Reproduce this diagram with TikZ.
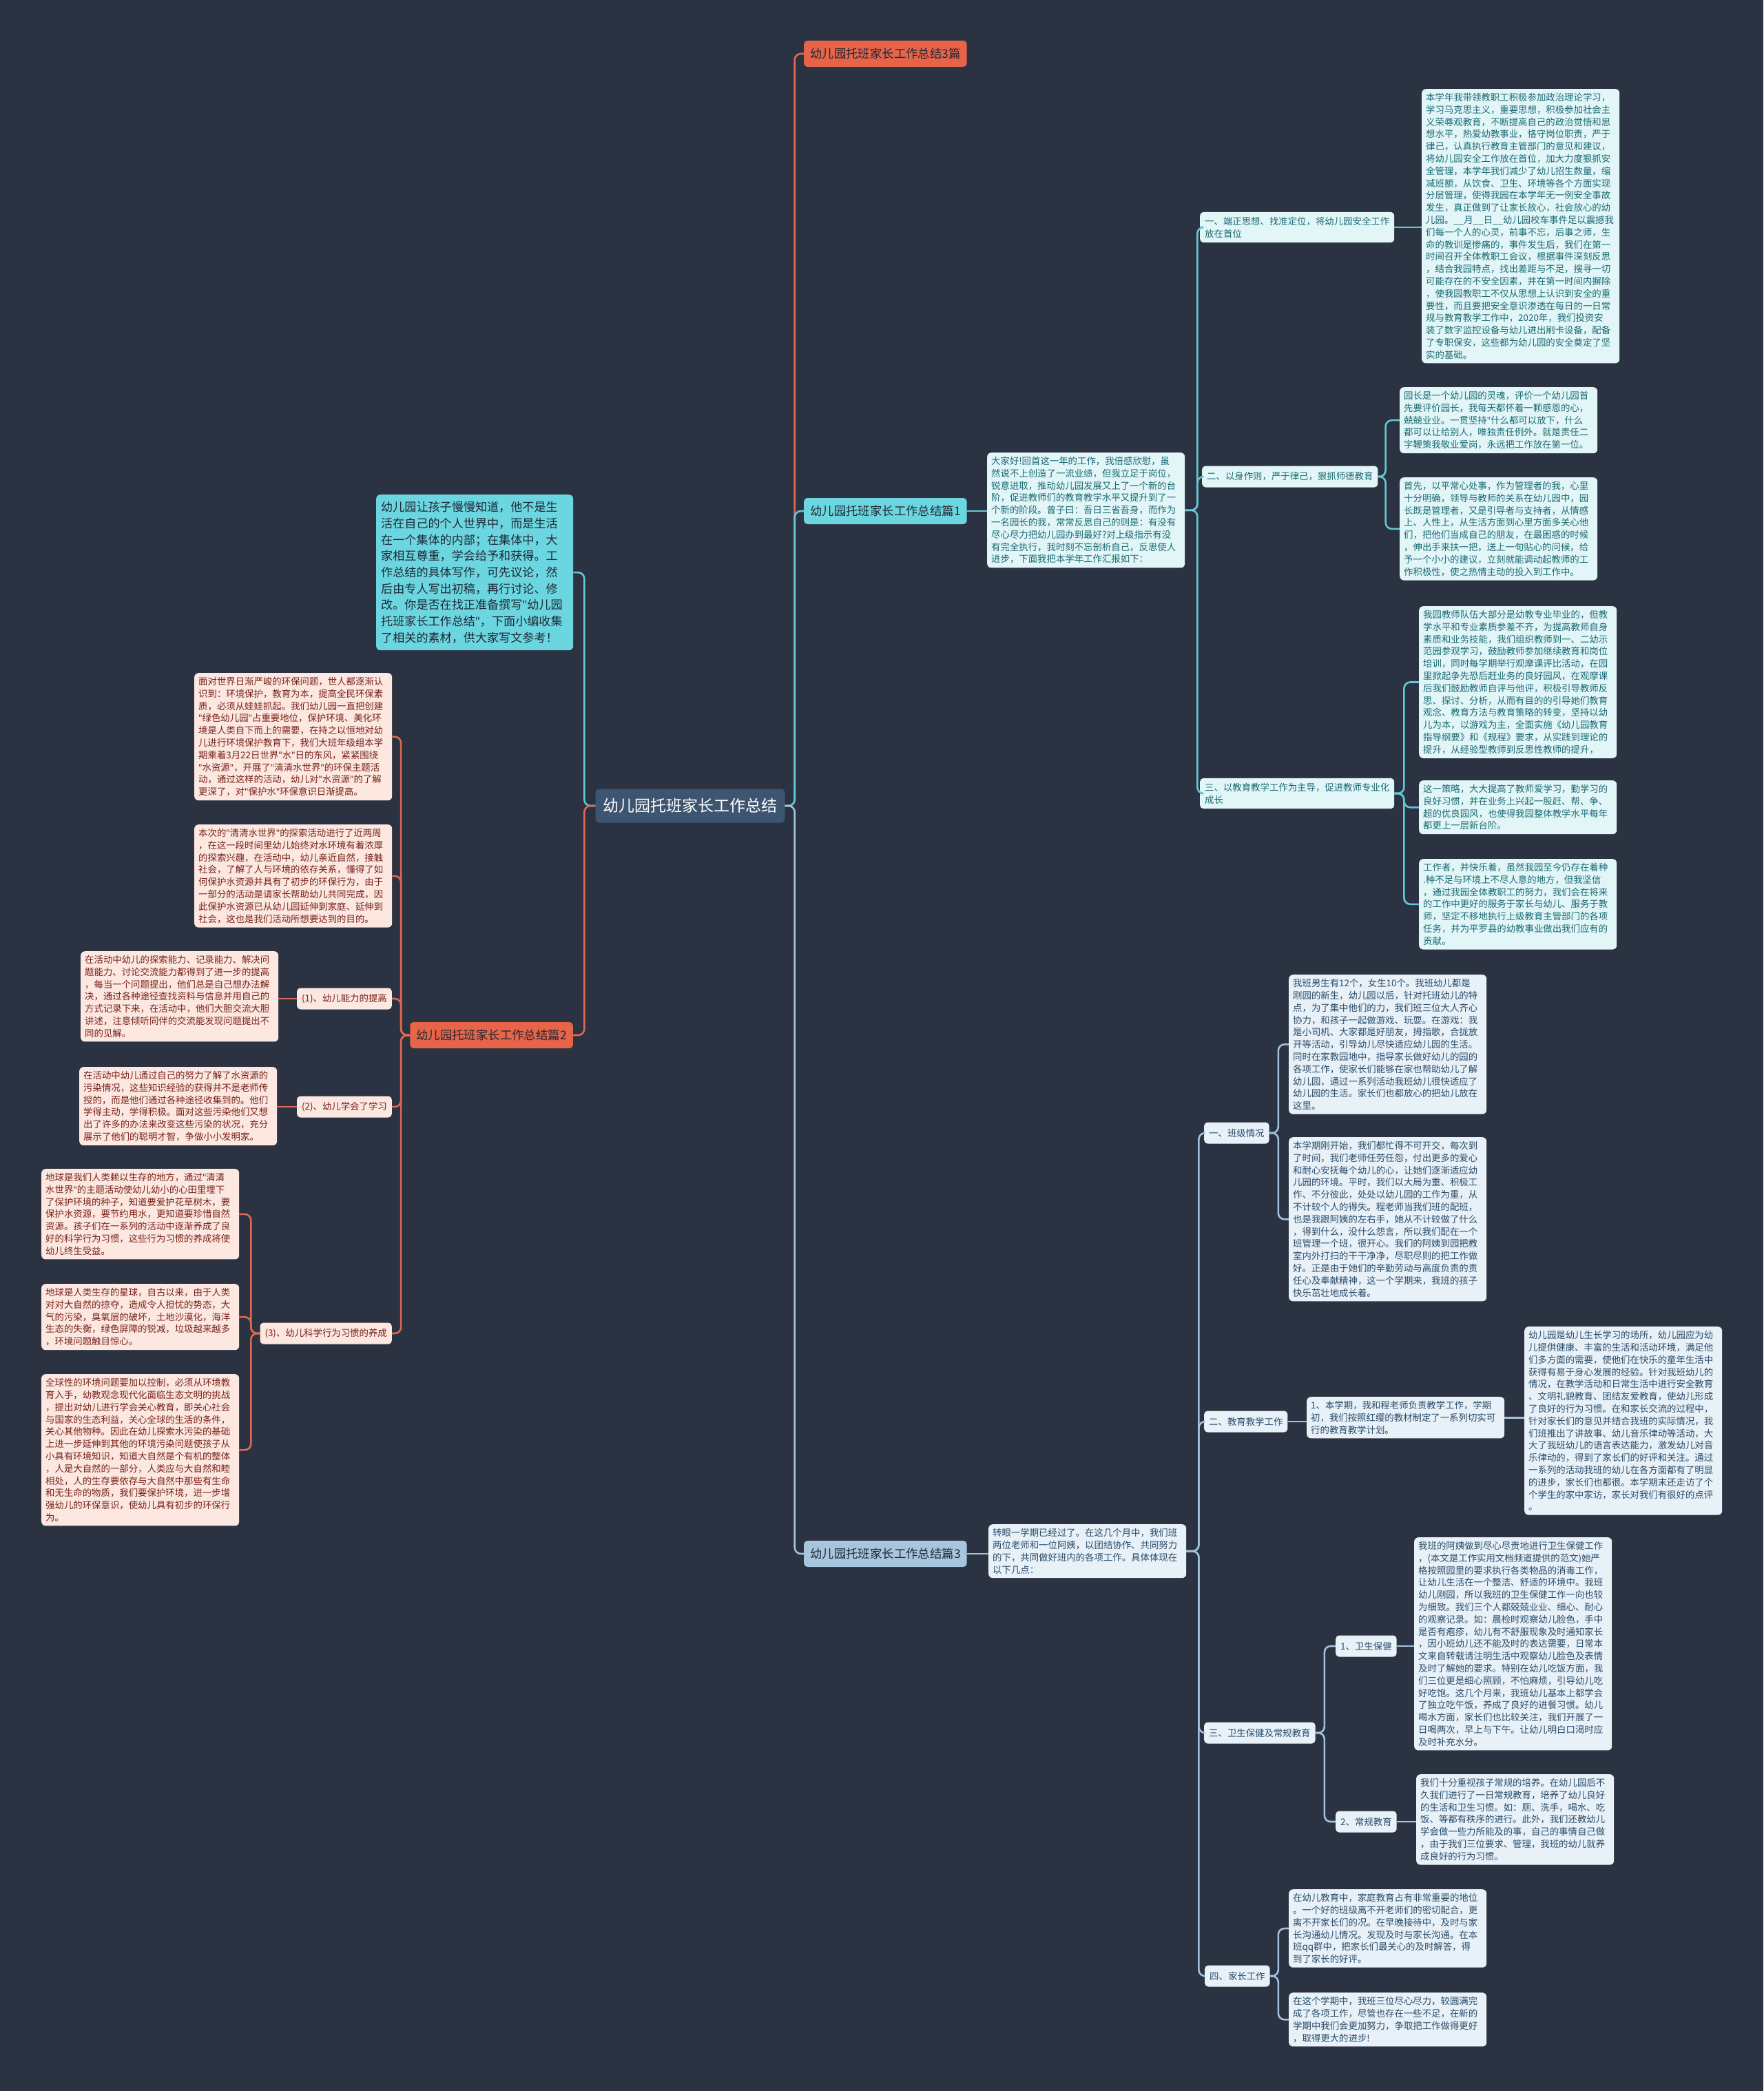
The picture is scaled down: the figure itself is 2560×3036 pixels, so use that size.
\documentclass[tikz,border=0pt]{standalone}
\usepackage{fontspec}
\setmainfont{Noto Sans CJK SC}
\newfontfamily\latina{Noto Sans}
\newcommand{\corpo}{\fontsize{13.4}{17.8}\selectfont}
\newcommand{\vq}{{\latina"}}

\definecolor{cSfondo}{RGB}{43,50,65}
\definecolor{cRadice}{RGB}{62,85,113}
\definecolor{cArancio}{RGB}{232,100,72}
\definecolor{cCiano}{RGB}{108,214,224}
\definecolor{cAzzurro}{RGB}{166,198,222}
\definecolor{cCianoC}{RGB}{226,246,248}
\definecolor{cTestoC}{RGB}{25,105,115}
\definecolor{cRosaC}{RGB}{252,231,225}
\definecolor{cTestoR}{RGB}{120,35,25}
\definecolor{cAzzC}{RGB}{232,241,248}
\definecolor{cTestoA}{RGB}{40,75,105}
\definecolor{cScuro}{RGB}{30,40,52}
\definecolor{cLineaC}{RGB}{100,200,215}
\definecolor{cLineaR}{RGB}{222,105,80}
\definecolor{cLineaA}{RGB}{160,195,222}

\begin{document}
\begin{tikzpicture}[x=1pt, y=-1pt,
    radice/.style={fill=cRadice, text=white, rounded corners=5pt, font=\fontsize{23}{28}\selectfont, inner xsep=11pt, minimum height=49pt},
    ramo/.style={rounded corners=5pt, font=\fontsize{17.4}{21}\selectfont, inner xsep=9pt, minimum height=38pt},
    voce/.style={rounded corners=5pt, font=\corpo, inner xsep=7pt, inner ysep=7pt, minimum height=31pt, align=left},
    nota/.style={rounded corners=6pt, font=\corpo, inner xsep=6pt, inner ysep=6pt, align=left, text width=275pt, anchor=north west},
    ciano/.style={fill=cCianoC, text=cTestoC},
    rosa/.style={fill=cRosaC, text=cTestoR},
    azzurro/.style={fill=cAzzC, text=cTestoA},
    filoC/.style={line width=2.6pt, rounded corners=9pt, color=cLineaC},
    filoR/.style={line width=2.6pt, rounded corners=9pt, color=cLineaR},
    filoA/.style={line width=2.6pt, rounded corners=9pt, color=cLineaA},
  ]

  % sfondo
  \fill[cSfondo] (0,0) rectangle (2560,3036);
  \useasboundingbox (0,0) rectangle (2560,3036);

  %%=== radice e rami principali ====================================
  \node[radice] (radice) at (1002,1170) {幼儿园托班家长工作总结};
  \node[ramo, fill=cArancio, text=cScuro, anchor=west] (sintesi) at (1167,78) {幼儿园托班家长工作总结3篇};
  \node[ramo, fill=cCiano, text=cScuro, anchor=west] (pz1) at (1167,742) {幼儿园托班家长工作总结篇1};
  \node[ramo, fill=cAzzurro, text=cScuro, anchor=west] (pz3) at (1167,2256) {幼儿园托班家长工作总结篇3};
  \node[ramo, fill=cArancio, text=cScuro, anchor=east] (pz2) at (832,1503) {幼儿园托班家长工作总结篇2};
  \node[nota, fill=cCiano, text=cScuro, text width=272pt, inner xsep=7pt, inner ysep=10pt,
        font=\fontsize{17.1}{23.7}\selectfont] (intro) at (546,718)
    {幼儿园让孩子慢慢知道，他不是生\\活在自己的个人世界中，而是生活\\在一个集体的内部；在集体中，大\\家相互尊重，学会给予和获得。工\\作总结的具体写作，可先议论，然\\后由专人写出初稿，再行讨论、修\\改。你是否在找正准备撰写\vq{}幼儿园\\托班家长工作总结\vq{}，下面小编收集\\了相关的素材，供大家写文参考！};

  \draw[filoR] (radice.east) -- ++(14,0) |- (sintesi.west);
  \draw[filoC] (radice.east) -- ++(14,0) |- (pz1.west);
  \draw[filoA] (radice.east) -- ++(14,0) |- (pz3.west);
  \draw[filoC] (radice.west) -- ++(-16,0) |- (intro.east);
  \draw[filoR] (radice.west) -- ++(-16,0) |- (pz2.west -| pz2.east);

  %%===篇1 =========================================================
  \node[nota, ciano] (p1) at (1433,657)
    {大家好!回首这一年的工作，我倍感欣慰，虽\\然说不上创造了一流业绩，但我立足于岗位，\\锐意进取，推动幼儿园发展又上了一个新的台\\阶，促进教师们的教育教学水平又提升到了一\\个新的阶段。曾子曰：吾日三省吾身，而作为\\一名园长的我，常常反思自己的则是：有没有\\尽心尽力把幼儿园办到最好?对上级指示有没\\有完全执行，我时刻不忘剖析自己，反思使人\\进步，下面我把本学年工作汇报如下：};
  \node[voce, ciano, anchor=west] (s1a) at (1742,330) {一、端正思想、找准定位，将幼儿园安全工作\\放在首位};
  \node[voce, ciano, anchor=west] (s1b) at (1745,692) {二、以身作则，严于律己，狠抓师德教育};
  \node[voce, ciano, anchor=west] (s1c) at (1742,1152) {三、以教育教学工作为主导，促进教师专业化\\成长};

  \node[nota, ciano] (t1) at (2064,129)
    {本学年我带领教职工积极参加政治理论学习，\\学习马克思主义，重要思想，积极参加社会主\\义荣辱观教育，不断提高自己的政治觉悟和思\\想水平，热爱幼教事业，恪守岗位职责，严于\\律己，认真执行教育主管部门的意见和建议，\\将幼儿园安全工作放在首位，加大力度狠抓安\\全管理，本学年我们减少了幼儿招生数量，缩\\减班额，从饮食、卫生、环境等各个方面实现\\分层管理，使得我园在本学年无一例安全事故\\发生，真正做到了让家长放心，社会放心的幼\\儿园。\_\_月\_\_日\_\_幼儿园校车事件足以震撼我\\们每一个人的心灵，前事不忘，后事之师，生\\命的教训是惨痛的，事件发生后，我们在第一\\时间召开全体教职工会议，根据事件深刻反思\\，结合我园特点，找出差距与不足，搜寻一切\\可能存在的不安全因素，并在第一时间内摒除\\，使我园教职工不仅从思想上认识到安全的重\\要性，而且要把安全意识渗透在每日的一日常\\规与教育教学工作中，2020年，我们投资安\\装了数字监控设备与幼儿进出刷卡设备，配备\\了专职保安，这些都为幼儿园的安全奠定了坚\\实的基础。};
  \node[nota, ciano] (t2a) at (2032,562)
    {园长是一个幼儿园的灵魂，评价一个幼儿园首\\先要评价园长，我每天都怀着一颗感恩的心，\\兢兢业业。一贯坚持\vq{}什么都可以放下，什么\\都可以让给别人，唯独责任例外。就是责任二\\字鞭策我敬业爱岗，永远把工作放在第一位。};
  \node[nota, ciano] (t2b) at (2032,693)
    {首先，以平常心处事，作为管理者的我，心里\\十分明确，领导与教师的关系在幼儿园中，园\\长既是管理者，又是引导者与支持者，从情感\\上、人性上，从生活方面到心里方面多关心他\\们，把他们当成自己的朋友，在最困惑的时候\\，伸出手来扶一把，送上一句贴心的问候，给\\予一个小小的建议，立刻就能调动起教师的工\\作积极性，使之热情主动的投入到工作中。};
  \node[nota, ciano] (t3a) at (2060,880)
    {我园教师队伍大部分是幼教专业毕业的，但教\\学水平和专业素质参差不齐，为提高教师自身\\素质和业务技能，我们组织教师到一、二幼示\\范园参观学习，鼓励教师参加继续教育和岗位\\培训，同时每学期举行观摩课评比活动，在园\\里掀起争先恐后赶业务的良好园风，在观摩课\\后我们鼓励教师自评与他评，积极引导教师反\\思、探讨、分析，从而有目的的引导她们教育\\观念、教育方法与教育策略的转变，坚持以幼\\儿为本，以游戏为主，全面实施《幼儿园教育\\指导纲要》和《规程》要求，从实践到理论的\\提升，从经验型教师到反思性教师的提升，};
  \node[nota, ciano] (t3b) at (2060,1133)
    {这一策略，大大提高了教师爱学习，勤学习的\\良好习惯，并在业务上兴起一股赶、帮、争、\\超的优良园风，也使得我园整体教学水平每年\\都更上一层新台阶。};
  \node[nota, ciano] (t3c) at (2060,1247)
    {工作者，并快乐着，虽然我园至今仍存在着种\\.种不足与环境上不尽人意的地方，但我坚信\\，通过我园全体教职工的努力，我们会在将来\\的工作中更好的服务于家长与幼儿、服务于教\\师，坚定不移地执行上级教育主管部门的各项\\任务，并为平罗县的幼教事业做出我们应有的\\贡献。};

  \draw[filoC] (pz1.east) -- (pz1.east -| p1.west);
  \draw[filoC] (p1.east) -- ++(18,0) |- (s1a.west);
  \draw[filoC] (p1.east) -- ++(18,0) |- (s1b.west);
  \draw[filoC] (p1.east) -- ++(18,0) |- (s1c.west);
  \draw[filoC] (s1a.east) -- (s1a.east -| t1.west);
  \draw[filoC] (s1b.east) -- ++(11,0) |- (t2a.west);
  \draw[filoC] (s1b.east) -- ++(11,0) |- (t2b.west);
  \draw[filoC] (s1c.east) -- ++(14,0) |- (t3a.west);
  \draw[filoC] (s1c.east) -- ++(14,0) |- (t3b.west);
  \draw[filoC] (s1c.east) -- ++(14,0) |- (t3c.west);

  %%=== 篇2 (a sinistra) ============================================
  \node[nota, rosa] (k1) at (282,977)
    {面对世界日渐严峻的环保问题，世人都逐渐认\\识到：环境保护，教育为本，提高全民环保素\\质，必须从娃娃抓起。我们幼儿园一直把创建\\\vq{}绿色幼儿园\vq{}占重要地位，保护环境、美化环\\境是人类自下而上的需要，在持之以恒地对幼\\儿进行环境保护教育下，我们大班年级组本学\\期乘着3月22日世界\vq{}水\vq{}日的东风，紧紧围绕\\\vq{}水资源\vq{}，开展了\vq{}清清水世界\vq{}的环保主题活\\动，通过这样的活动，幼儿对\vq{}水资源\vq{}的了解\\更深了，对\vq{}保护水\vq{}环保意识日渐提高。};
  \node[nota, rosa] (k2) at (282,1197)
    {本次的\vq{}清清水世界\vq{}的探索活动进行了近两周\\，在这一段时间里幼儿始终对水环境有着浓厚\\的探索兴趣，在活动中，幼儿亲近自然，接触\\社会，了解了人与环境的依存关系，懂得了如\\何保护水资源并具有了初步的环保行为，由于\\一部分的活动是请家长帮助幼儿共同完成，因\\此保护水资源已从幼儿园延伸到家庭、延伸到\\社会，这也是我们活动所想要达到的目的。};
  \node[voce, rosa, anchor=east] (l1) at (569,1450) {(1)、幼儿能力的提高};
  \node[voce, rosa, anchor=east] (l2) at (569,1607) {(2)、幼儿学会了学习};
  \node[voce, rosa, anchor=east] (l3) at (569,1936) {(3)、幼儿科学行为习惯的养成};
  \node[nota, rosa] (m1) at (117,1381)
    {在活动中幼儿的探索能力、记录能力、解决问\\题能力、讨论交流能力都得到了进一步的提高\\，每当一个问题提出，他们总是自己想办法解\\决，通过各种途径查找资料与信息并用自己的\\方式记录下来，在活动中，他们大胆交流大胆\\讲述，注意倾听同伴的交流能发现问题提出不\\同的见解。};
  \node[nota, rosa] (m2) at (115,1549)
    {在活动中幼儿通过自己的努力了解了水资源的\\污染情况，这些知识经验的获得并不是老师传\\授的，而是他们通过各种途径收集到的。他们\\学得主动，学得积极。面对这些污染他们又想\\出了许多的办法来改变这些污染的状况，充分\\展示了他们的聪明才智，争做小小发明家。};
  \node[nota, rosa] (n1) at (60,1697)
    {地球是我们人类赖以生存的地方，通过\vq{}清清\\水世界\vq{}的主题活动使幼儿幼小的心田里埋下\\了保护环境的种子，知道要爱护花草树木，要\\保护水资源，要节约用水，更知道要珍惜自然\\资源。孩子们在一系列的活动中逐渐养成了良\\好的科学行为习惯，这些行为习惯的养成将使\\幼儿终生受益。};
  \node[nota, rosa] (n2) at (60,1864)
    {地球是人类生存的星球，自古以来，由于人类\\对对大自然的掠夺，造成令人担忧的势态，大\\气的污染，臭氧层的破坏，土地沙漠化，海洋\\生态的失衡，绿色屏障的锐减，垃圾越来越多\\，环境问题触目惊心。};
  \node[nota, rosa] (n3) at (60,1995)
    {全球性的环境问题要加以控制，必须从环境教\\育入手，幼教观念现代化面临生态文明的挑战\\，提出对幼儿进行学会关心教育，即关心社会\\与国家的生态利益，关心全球的生活的条件，\\关心其他物种。因此在幼儿探索水污染的基础\\上进一步延伸到其他的环境污染问题使孩子从\\小具有环境知识，知道大自然是个有机的整体\\，人是大自然的一部分，人类应与大自然和睦\\相处，人的生存要依存与大自然中那些有生命\\和无生命的物质，我们要保护环境，进一步增\\强幼儿的环保意识，使幼儿具有初步的环保行\\为。};

  \draw[filoR] (pz2.west) -- ++(-13,0) |- (k1.east);
  \draw[filoR] (pz2.west) -- ++(-13,0) |- (k2.east);
  \draw[filoR] (pz2.west) -- ++(-13,0) |- (l1.east);
  \draw[filoR] (pz2.west) -- ++(-13,0) |- (l2.east);
  \draw[filoR] (pz2.west) -- ++(-13,0) |- (l3.east);
  \draw[filoR] (l1.west) -- (l1.west -| m1.east);
  \draw[filoR] (l2.west) -- (l2.west -| m2.east);
  \draw[filoR] (l3.west) -- ++(-13,0) |- (n1.east);
  \draw[filoR] (l3.west) -- ++(-13,0) |- (n2.east);
  \draw[filoR] (l3.west) -- ++(-13,0) |- (n3.east);

  %%=== 篇3 =========================================================
  \node[nota, azzurro] (p3) at (1435,2213)
    {转眼一学期已经过了。在这几个月中，我们班\\两位老师和一位阿姨，以团结协作、共同努力\\的下，共同做好班内的各项工作。具体体现在\\以下几点：};
  \node[voce, azzurro, anchor=west] (c1) at (1748,1645) {一、班级情况};
  \node[voce, azzurro, anchor=west] (c2) at (1748,2064) {二、教育教学工作};
  \node[voce, azzurro, anchor=west] (c3) at (1748,2516) {三、卫生保健及常规教育};
  \node[voce, azzurro, anchor=west] (c4) at (1749,2869) {四、家长工作};

  \node[nota, azzurro] (d1a) at (1871,1415)
    {我班男生有12个，女生10个。我班幼儿都是\\刚园的新生，幼儿园以后，针对托班幼儿的特\\点，为了集中他们的力，我们班三位大人齐心\\协力，和孩子一起做游戏、玩耍。在游戏：我\\是小司机、大家都是好朋友，拇指歌，合拢放\\开等活动，引导幼儿尽快适应幼儿园的生活。\\同时在家教园地中，指导家长做好幼儿的园的\\各项工作，使家长们能够在家也帮助幼儿了解\\幼儿园，通过一系列活动我班幼儿很快适应了\\幼儿园的生活。家长们也都放心的把幼儿放在\\这里。};
  \node[nota, azzurro] (d1b) at (1871,1651)
    {本学期刚开始，我们都忙得不可开交，每次到\\了时间，我们老师任劳任怨，付出更多的爱心\\和耐心安抚每个幼儿的心，让她们逐渐适应幼\\儿园的环境。平时，我们以大局为重、积极工\\作、不分彼此，处处以幼儿园的工作为重，从\\不计较个人的得失。程老师当我们班的配班，\\也是我跟阿姨的左右手，她从不计较做了什么\\，得到什么，没什么怨言，所以我们配在一个\\班管理一个班，很开心。我们的阿姨到园把教\\室内外打扫的干干净净，尽职尽则的把工作做\\好。正是由于她们的辛勤劳动与高度负责的责\\任心及奉献精神，这一个学期来，我班的孩子\\快乐茁壮地成长着。};
  \node[nota, azzurro] (d2) at (1897,2028)
    {1、本学期，我和程老师负责教学工作，学期\\初，我们按照红缨的教材制定了一系列切实可\\行的教育教学计划。};
  \node[nota, azzurro] (e2) at (2213,1926)
    {幼儿园是幼儿生长学习的场所，幼儿园应为幼\\儿提供健康、丰富的生活和活动环境，满足他\\们多方面的需要，使他们在快乐的童年生活中\\获得有易于身心发展的经验。针对我班幼儿的\\情况，在教学活动和日常生活中进行安全教育\\、文明礼貌教育、团结友爱教育，使幼儿形成\\了良好的行为习惯。在和家长交流的过程中，\\针对家长们的意见并结合我班的实际情况，我\\们班推出了讲故事、幼儿音乐律动等活动，大\\大了我班幼儿的语言表达能力，激发幼儿对音\\乐律动的，得到了家长们的好评和关注。通过\\一系列的活动我班的幼儿在各方面都有了明显\\的进步，家长们也都很。本学期末还走访了个\\个学生的家中家访，家长对我们有很好的点评\\。};
  \node[voce, azzurro, anchor=west] (f1) at (1939,2390) {1、卫生保健};
  \node[voce, azzurro, anchor=west] (f2) at (1939,2645) {2、常规教育};
  \node[nota, azzurro] (g1) at (2053,2232)
    {我班的阿姨做到尽心尽责地进行卫生保健工作\\，(本文是工作实用文档频道提供的范文)她严\\格按照园里的要求执行各类物品的消毒工作，\\让幼儿生活在一个整洁、舒适的环境中。我班\\幼儿刚园，所以我班的卫生保健工作一向也较\\为细致。我们三个人都兢兢业业、细心、耐心\\的观察记录。如：晨检时观察幼儿脸色，手中\\是否有疱疹，幼儿有不舒服现象及时通知家长\\，因小班幼儿还不能及时的表达需要，日常本\\文来自转载请注明生活中观察幼儿脸色及表情\\及时了解她的要求。特别在幼儿吃饭方面，我\\们三位更是细心照顾，不怕麻烦，引导幼儿吃\\好吃饱。这几个月来，我班幼儿基本上都学会\\了独立吃午饭，养成了良好的进餐习惯。幼儿\\喝水方面，家长们也比较关注，我们开展了一\\日喝两次，早上与下午。让幼儿明白口渴时应\\及时补充水分。};
  \node[nota, azzurro] (g2) at (2056,2576)
    {我们十分重视孩子常规的培养。在幼儿园后不\\久我们进行了一日常规教育，培养了幼儿良好\\的生活和卫生习惯。如：厕、洗手，喝水、吃\\饭、等都有秩序的进行。此外，我们还教幼儿\\学会做一些力所能及的事，自己的事情自己做\\，由于我们三位要求、管理，我班的幼儿就养\\成良好的行为习惯。};
  \node[nota, azzurro] (h1) at (1871,2743)
    {在幼儿教育中，家庭教育占有非常重要的地位\\。一个好的班级离不开老师们的密切配合，更\\离不开家长们的况。在早晚接待中，及时与家\\长沟通幼儿情况。发现及时与家长沟通。在本\\班qq群中，把家长们最关心的及时解答，得\\到了家长的好评。};
  \node[nota, azzurro] (h2) at (1871,2893)
    {在这个学期中，我班三位尽心尽力，较圆满完\\成了各项工作，尽管也存在一些不足，在新的\\学期中我们会更加努力，争取把工作做得更好\\，取得更大的进步!};

  \draw[filoA] (pz3.east) -- (pz3.east -| p3.west);
  \draw[filoA] (p3.east) -- ++(18,0) |- (c1.west);
  \draw[filoA] (p3.east) -- ++(18,0) |- (c2.west);
  \draw[filoA] (p3.east) -- ++(18,0) |- (c3.west);
  \draw[filoA] (p3.east) -- ++(18,0) |- (c4.west);
  \draw[filoA] (c1.east) -- ++(13,0) |- (d1a.west);
  \draw[filoA] (c1.east) -- ++(13,0) |- (d1b.west);
  \draw[filoA] (c2.east) -- (c2.east -| d2.west);
  \draw[filoA] (d2.east) -- (d2.east -| e2.west);
  \draw[filoA] (c3.east) -- ++(13,0) |- (f1.west);
  \draw[filoA] (c3.east) -- ++(13,0) |- (f2.west);
  \draw[filoA] (f1.east) -- (f1.east -| g1.west);
  \draw[filoA] (f2.east) -- (f2.east -| g2.west);
  \draw[filoA] (c4.east) -- ++(12,0) |- (h1.west);
  \draw[filoA] (c4.east) -- ++(12,0) |- (h2.west);

\end{tikzpicture}
\end{document}
